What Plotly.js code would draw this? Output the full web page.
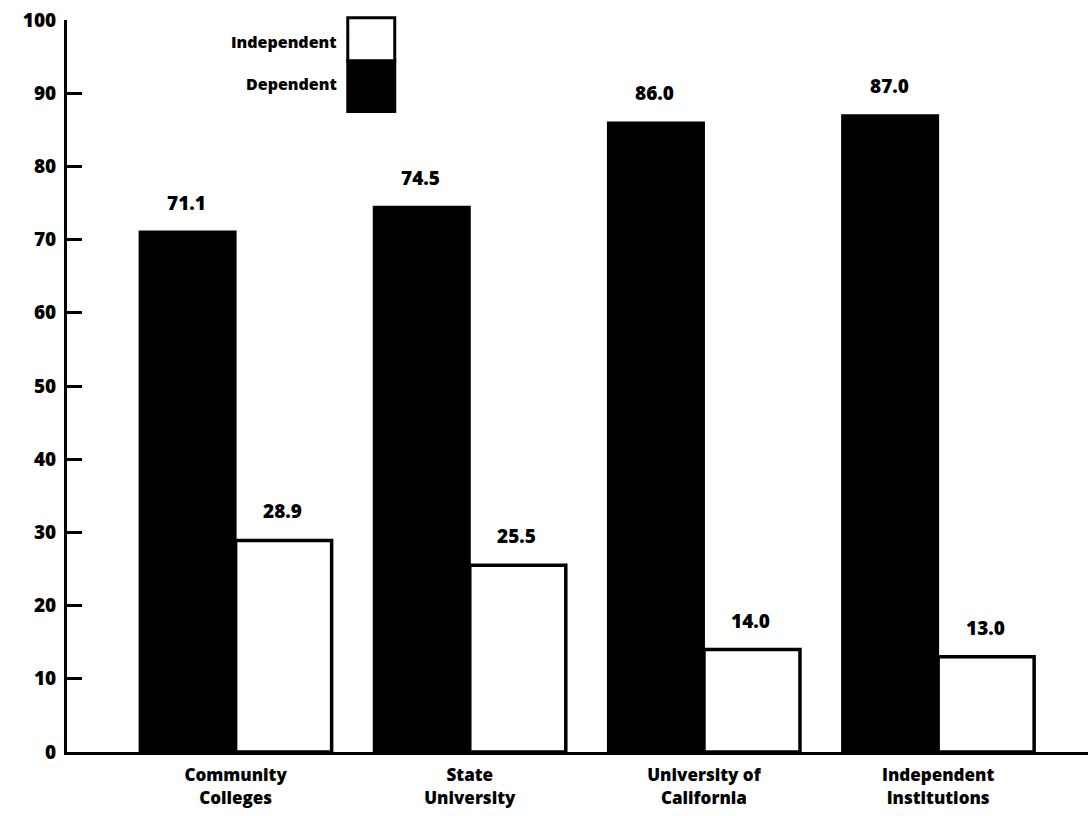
<!DOCTYPE html>
<html>
<head>
<meta charset="utf-8">
<script src="https://cdn.plot.ly/plotly-3.0.1.min.js"></script>
<style>html,body{margin:0;padding:0;background:#fff;}#chart{width:1088px;height:816px;}</style>
</head>
<body>
<div id="chart"></div>
<script>
const categories = ["Community<br>Colleges", "State<br>University", "University of<br>California", "Independent<br>Institutions"];
const dependentValues = [71.1, 74.5, 86.0, 87.0];
const independentValues = [28.9, 25.5, 14.0, 13.0];
const seriesNames = ["Dependent", "Independent"];
const yTicks = [0, 10, 20, 30, 40, 50, 60, 70, 80, 90, 100];

const fontFam = "Open Sans, Arial, sans-serif";

const traces = [
  {
    type: 'bar', name: seriesNames[0], x: categories, y: dependentValues,
    marker: {color: '#000', line: {color: '#000', width: 2}},
    showlegend: false, hoverinfo: 'skip'
  },
  {
    type: 'bar', name: seriesNames[1], x: categories, y: independentValues,
    marker: {color: '#fff', line: {color: '#000', width: 3.5}},
    showlegend: false, hoverinfo: 'skip'
  }
];

const annotations = [];
categories.forEach((c, i) => {
  annotations.push({x: c, y: dependentValues[i], xref: 'x', yref: 'y', text: dependentValues[i].toFixed(1),
    showarrow: false, yanchor: 'bottom', yshift: 14, xshift: -49,
    font: {family: fontFam, size: 19, color: '#000', weight: 800}});
  annotations.push({x: c, y: independentValues[i], xref: 'x', yref: 'y', text: independentValues[i].toFixed(1),
    showarrow: false, yanchor: 'bottom', yshift: 14, xshift: 47,
    font: {family: fontFam, size: 19, color: '#000', weight: 800}});
});
// legend labels
annotations.push({xref: 'paper', yref: 'paper', x: 0.266, y: 0.97, xanchor: 'right', yanchor: 'middle',
  text: seriesNames[1], showarrow: false, font: {family: fontFam, size: 16, color: '#000', weight: 800}});
annotations.push({xref: 'paper', yref: 'paper', x: 0.266, y: 0.912, xanchor: 'right', yanchor: 'middle',
  text: seriesNames[0], showarrow: false, font: {family: fontFam, size: 16, color: '#000', weight: 800}});

const shapes = [
  {type: 'rect', xref: 'paper', yref: 'paper', x0: 0.275, x1: 0.321, y0: 0.944, y1: 1.003,
   fillcolor: '#fff', line: {color: '#000', width: 3}},
  {type: 'rect', xref: 'paper', yref: 'paper', x0: 0.275, x1: 0.321, y0: 0.875, y1: 0.944,
   fillcolor: '#000', line: {color: '#000', width: 3}}
];

const layout = {
  width: 1088, height: 816,
  margin: {l: 67, r: 0, t: 20, b: 64},
  paper_bgcolor: '#fff', plot_bgcolor: '#fff',
  barmode: 'group', bargap: 0.18, bargroupgap: 0,
  font: {family: fontFam, color: '#000'},
  xaxis: {
    type: 'category', range: [-0.72, 3.64],
    showline: true, linewidth: 3, linecolor: '#000', ticks: '', showgrid: false,
    ticklabelstandoff: 6,
    tickfont: {family: fontFam, size: 17, color: '#000', weight: 800}
  },
  yaxis: {
    range: [0, 100], tickvals: yTicks, ticktext: yTicks.map(String),
    showline: true, linewidth: 3, linecolor: '#000',
    ticks: 'inside', ticklen: 15, tickwidth: 3, tickcolor: '#000',
    showgrid: false, zeroline: false, ticklabelstandoff: 4,
    tickfont: {family: fontFam, size: 19, color: '#000', weight: 800}
  },
  annotations: annotations,
  shapes: shapes
};

Plotly.newPlot('chart', traces, layout, {displayModeBar: false, staticPlot: true});
</script>
</body>
</html>
